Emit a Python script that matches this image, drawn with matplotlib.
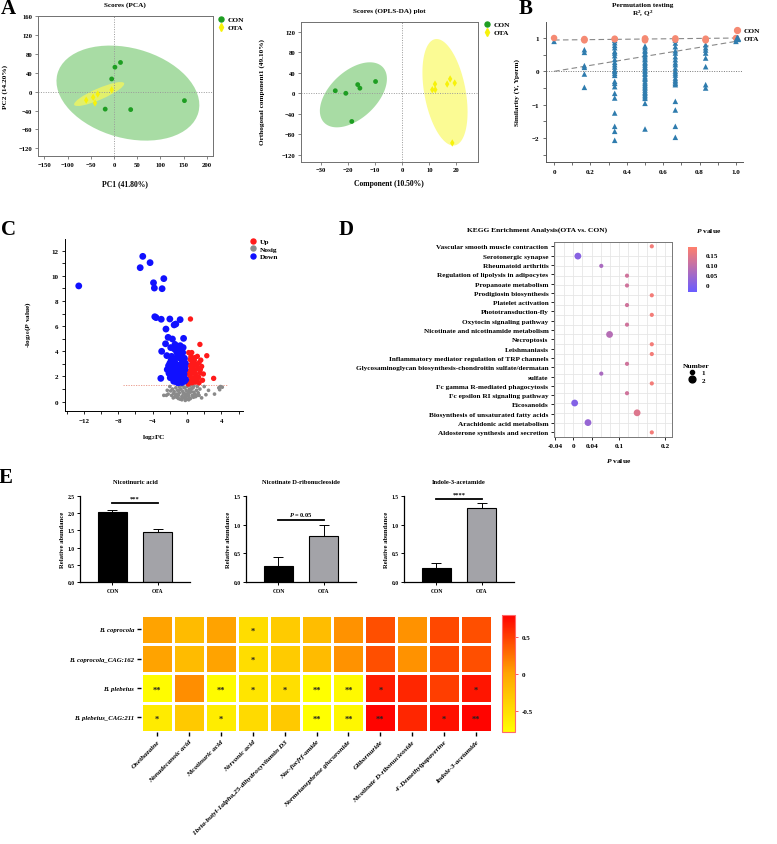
import numpy as np
import matplotlib
matplotlib.use("Agg")
import matplotlib.pyplot as plt
from matplotlib.patches import Ellipse, Polygon
from matplotlib.colors import LinearSegmentedColormap, Normalize
from matplotlib.cm import ScalarMappable
from matplotlib.lines import Line2D
from matplotlib.ticker import MultipleLocator, FixedLocator

# ======================= DATA =======================
# Panel A - PCA scores
pca_con_x = [14, 2, -5, -19, 36, 152]
pca_con_y = [62, 52, 27, -37, -38, -19]
pca_ota_x = [-5, -35, -45, -60, -41]
pca_ota_y = [4, -5, -12, -18, -24]
pca_xticks = [-150, -100, -50, 0, 50, 100, 150, 200]
pca_yticks = [-120, -80, -40, 0, 40, 80, 120, 160]

# Panel A - OPLS-DA scores
opls_con_x = [-24.8, -20.9, -16.5, -15.7, -9.9, -18.7]
opls_con_y = [5, 0, 17, 10, 23, -55]
opls_ota_x = [11.1, 12.1, 12.2, 16.6, 17.7, 19.4, 18.5]
opls_ota_y = [7, 18, 7, 18, 28, 20, -97]
opls_xticks = [-30, -20, -10, 0, 10, 20]
opls_yticks = [-120, -80, -40, 0, 40, 80, 120]

# Panel B - permutation test
perm_levels = [0, 1/6, 2/6, 3/6, 4/6, 5/6, 1.0]
r2_perm = [[1.0], [0.97, 0.95, 0.93], [0.98, 0.96], [0.99, 0.96, 0.93],
           [0.99, 0.95], [0.98, 0.95, 0.93], [1.0]]
q2_perm = [[0.9],
           [0.65, 0.57, 0.17, 0.12, -0.08, -0.48],
           [0.93, 0.86, 0.78, 0.71, 0.6, 0.55, 0.47, 0.36, 0.27, 0.2, 0.13, 0.04,
            0.0, -0.06, -0.12, -0.3, -0.36, -0.46, -0.66, -0.8, -1.25, -1.65,
            -1.8, -2.07],
           [0.76, 0.71, 0.64, 0.6, 0.53, 0.5, 0.44, 0.38, 0.35, 0.28, 0.24, 0.19,
            0.13, 0.1, 0.04, 0.0, -0.06, -0.09, -0.16, -0.21, -0.24, -0.31, -0.36,
            -0.41, -0.46, -0.5, -0.56, -0.62, -0.66, -0.71, -0.76, -0.81, -0.96,
            -1.73],
           [0.94, 0.85, 0.74, 0.62, 0.55, 0.44, 0.35, 0.26, 0.2, 0.1, 0.01, -0.05,
            -0.11, -0.2, -0.26, -0.31, -0.36, -0.4, -0.9, -1.16, -1.65, -1.98],
           [0.8, 0.71, 0.64, 0.55, 0.4, 0.14, -0.4, -0.5],
           [0.9]]
r2_intercept, r2_final = 0.94, 1.0
q2_intercept, q2_final = 0.0, 0.9
perm_xticks = [0, 0.2, 0.4, 0.6, 0.8, 1.0]
perm_yticks = [-2, -1, 0, 1]

# Panel C - volcano
down_x = [-12.6, -5.15, -5.45, -4.3, -3.9, -3.8, -2.7, -2.9, -3.75, -3.6, -3.0,
          -2.0, -0.8, -1.3, -1.5, -2.45, -2.2, -1.7, -0.4, -2.5, -1.9, -1.4,
          -0.8, -2.95, -2.35, -3.05, -1.2, -1.6, -1.0, -0.6, -0.3, -1.3, -0.85,
          -0.5, -1.65, -2.0, -2.1, -1.85, -1.35, -1.05, -0.65, -0.25, -0.45,
          -0.8, -1.2, -1.55, -1.95, -0.3, -0.6, -1.0, -0.2, -0.9, -0.5, -1.3,
          -0.7, -1.5, -0.35, -1.1, -2.3, -2.0, -0.15, -0.55, -1.75, -1.15,
          -1.8, -1.45, -1.1, -0.75, -0.4, -1.9, -1.6, -1.25, -0.95, -0.6, -0.25,
          -1.7, -1.35, -1.0, -0.7, -0.35, -2.15, -1.5, -0.9, -0.45, -1.2, -0.65,
          -1.85, -1.05]
down_y = [9.2, 11.55, 10.65, 11.05, 9.45, 9.03, 9.78, 8.98, 6.75, 6.68, 6.55,
          6.57, 6.52, 6.17, 6.1, 5.77, 5.11, 4.98, 5.03, 4.6, 4.3, 4.55, 4.45,
          4.0, 3.66, 1.85, 3.95, 3.4, 3.5, 3.35, 3.45, 3.0, 2.9, 2.8, 2.7, 2.45,
          2.25, 2.05, 2.4, 2.2, 2.3, 2.55, 2.05, 1.8, 1.7, 1.62, 1.9, 1.62, 1.52,
          1.5, 3.05, 3.75, 3.9, 4.15, 2.6, 2.1, 2.2, 1.55, 2.55, 3.05, 1.75, 3.2,
          3.25, 2.9, 3.6, 3.15, 3.7, 3.55, 3.1, 2.75, 2.35, 2.6, 2.45, 2.85, 2.7,
          2.0, 1.85, 1.95, 1.7, 1.9, 2.85, 4.2, 4.05, 4.3, 1.55, 2.0, 3.3, 3.85]
up_x = [0.4, 1.5, 2.3, 3.1, 0.2, 0.45, 0.9, 1.2, 0.6, 1.0, 1.4, 0.3, 0.7, 1.3,
        1.7, 0.2, 0.6, 1.0, 1.5, 1.9, 0.4, 0.8, 1.2, 0.3, 0.6, 1.0, 1.4, 0.15,
        1.8, 0.55, 0.9, 1.6, 0.35, 0.75, 1.15, 1.55, 0.25, 0.65, 1.05, 1.35,
        0.5, 0.85]
up_y = [6.57, 4.55, 3.65, 1.85, 3.9, 3.6, 3.5, 3.6, 3.2, 3.0, 3.1, 2.9, 2.7,
        2.6, 2.8, 2.4, 2.3, 2.2, 2.3, 2.2, 2.0, 1.9, 1.8, 1.6, 1.5, 1.55, 1.5,
        1.4, 1.7, 3.9, 2.5, 3.3, 3.35, 3.05, 2.85, 2.55, 2.15, 1.75, 2.0, 1.95,
        2.65, 3.3]
nosig_x = [-2.0, -1.7, -1.5, -1.3, -1.1, -0.9, -0.7, -0.5, -0.3, -0.1, 0.1, 0.3,
           0.5, 0.7, 0.9, 1.1, 1.3, 1.5, -1.8, -1.4, -1.0, -0.6, -0.2, 0.2, 0.6,
           1.0, 1.4, -0.8, -0.4, 0.0, 0.4, -0.2, 0.2, -2.2, -1.6, 1.7, 2.2, 2.0,
           3.2, 3.7, 3.9, 4.1, 3.8, -2.3, -0.9, -0.5, 0.0, 0.4, 0.8, 1.2, -1.2,
           0.8, -0.3, 0.15, -2.4, -1.9, -1.55, -1.2, -0.85, -0.45, -0.05, 0.35,
           0.75, 1.15, -1.0, -0.6, -0.15, 0.25, 0.55, -2.7, 2.5]
nosig_y = [1.2, 1.0, 0.8, 1.1, 0.9, 0.7, 1.0, 0.8, 1.1, 0.9, 0.7, 1.0, 0.8, 1.1,
           0.6, 0.9, 0.7, 1.0, 0.5, 0.4, 0.5, 0.4, 0.5, 0.4, 0.5, 0.4, 0.5, 0.2,
           0.3, 0.2, 0.25, 0.1, 0.15, 0.6, 0.3, 0.3, 0.55, 1.2, 0.6, 1.1, 1.2,
           1.15, 0.95, 0.9, 1.2, 1.25, 1.2, 1.3, 1.25, 1.2, 0.6, 0.75, 0.65, 0.55,
           0.5, 0.85, 0.65, 0.35, 0.95, 0.6, 0.55, 0.75, 0.35, 0.5, 0.25, 0.15,
           0.35, 0.85, 1.05, 0.5, 0.9]
volcano_threshold = 1.3
volcano_xticks = [-12, -8, -4, 0, 4]
volcano_yticks = [0, 2, 4, 6, 8, 10, 12]

# Panel D - KEGG enrichment
kegg_terms = ["Vascular smooth muscle contraction", "Serotonergic synapse",
              "Rheumatoid arthritis", "Regulation of lipolysis in adipocytes",
              "Propanoate metabolism", "Prodigiosin biosynthesis",
              "Platelet activation", "Phototransduction-fly",
              "Oxytocin signaling pathway",
              "Nicotinate and nicotinamide metabolism", "Necroptosis",
              "Leishmaniasis", "Inflammatory mediator regulation of TRP channels",
              "Glycosaminoglycan biosynthesis-chondroitin sulfate/dermatan\nsulfate",
              "Fc gamma R-mediated phagocytosis", "Fc epsilon RI signaling pathway",
              "Eicosanoids", "Biosynthesis of unsaturated fatty acids",
              "Arachidonic acid metabolism", "Aldosterone synthesis and secretion"]
kegg_p = [0.171, 0.010, 0.061, 0.117, 0.117, 0.171, 0.117, 0.171, 0.117, 0.079,
          0.171, 0.171, 0.117, 0.061, 0.171, 0.117, 0.003, 0.139, 0.032, 0.171]
kegg_n = [1, 2, 1, 1, 1, 1, 1, 1, 1, 2, 1, 1, 1, 1, 1, 1, 2, 2, 2, 1]
kegg_xticks = [-0.04, 0, 0.04, 0.1, 0.2]
kegg_xticklabels = ["-0.04", "0", "0.04", "0.1", "0.2"]
kegg_cbar_ticks = [0, 0.05, 0.10, 0.15]
kegg_cbar_labels = ["0", "0.05", "0.10", "0.15"]

# Panel E - bars
bar_groups = ["CON", "OTA"]
nicotinuric_mean = [2.03, 1.45]
nicotinuric_err = [0.07, 0.09]
nicotinate_mean = [0.28, 0.81]
nicotinate_err = [0.16, 0.19]
indole_mean = [0.25, 1.29]
indole_err = [0.09, 0.08]

# Panel E - heatmap
heat_rows = ["B. coprocola", "B. coprocola_CAG:162", "B. plebeius",
             "B. plebeius_CAG:211"]
heat_cols = ["Oxethazaine", "Nonadecanoic acid", "Nicotinuric acid",
             "Nervonic acid", "1beta-butyl-1alpha,25-dihydroxyvitamin D3",
             "Nac-fucfrf-amide", "Normetanephrine glucuronide", "Glibornuride",
             "Nicotinate D-ribonucleoside", "4'-Demethylpapaverine",
             "Indole-3-acetamide"]
heat_vals = [[0.02, -0.18, 0.02, -0.48, -0.32, -0.2, 0.1, 0.42, 0.1, 0.45, 0.42],
             [0.02, -0.18, 0.02, -0.48, -0.32, -0.18, 0.1, 0.42, 0.1, 0.45, 0.42],
             [-0.75, 0.12, -0.74, -0.55, -0.5, -0.78, -0.72, 0.66, 0.62, 0.5, 0.7],
             [-0.6, -0.3, -0.62, -0.45, -0.3, -0.78, -0.7, 0.78, 0.62, 0.72, 0.78]]
heat_stars = [["", "", "", "*", "", "", "", "", "", "", ""],
              ["", "", "", "*", "", "", "", "", "", "", ""],
              ["**", "", "**", "*", "*", "**", "**", "*", "", "", "*"],
              ["*", "", "*", "", "", "**", "**", "**", "", "*", "**"]]

# ======================= STYLE / LAYOUT =======================
plt.rcParams['font.family'] = ['Liberation Serif', 'DejaVu Serif']
plt.rcParams['font.weight'] = 'bold'
plt.rcParams['axes.labelweight'] = 'bold'
plt.rcParams['mathtext.fontset'] = 'custom'
plt.rcParams['mathtext.rm'] = 'Liberation Serif:bold'
plt.rcParams['mathtext.it'] = 'Liberation Serif:italic:bold'
plt.rcParams['mathtext.bf'] = 'Liberation Serif:bold'

W, H = 777, 845
fig = plt.figure(figsize=(W / 100, H / 100), dpi=100)
fig.patch.set_facecolor('white')


def axpx(x0, y0, x1, y1):
    return fig.add_axes([x0 / W, 1 - y1 / H, (x1 - x0) / W, (y1 - y0) / H])


def fxy(x, y):
    return (x / W, 1 - y / H)


def ftext(x, y, s, **kw):
    fig.text(x / W, 1 - y / H, s, ha=kw.pop('ha', 'center'),
             va=kw.pop('va', 'center'), **kw)


def set_xlabel_px(ax, s, x, y, fs):
    ax.set_xlabel(s, fontsize=fs)
    ax.xaxis.set_label_coords(x / W, 1 - y / H, transform=fig.transFigure)
    ax.xaxis.label.set_va('center')


def set_ylabel_px(ax, s, x, y, fs):
    ax.set_ylabel(s, fontsize=fs)
    ax.yaxis.set_label_coords(x / W, 1 - y / H, transform=fig.transFigure)
    ax.yaxis.label.set_va('center')


GREEN = '#1e9e22'
YELLOW = '#f7f20a'
frame_col = '#707070'

# ---------------- Panel A: PCA ----------------
ax = axpx(38, 17, 213, 157)
ax.add_patch(Ellipse((30, -3), 315, 191, angle=-15, facecolor='#93d48e',
                     edgecolor='none', alpha=0.8, zorder=1))
ax.add_patch(Ellipse((-32, -5), 117, 24, angle=23, facecolor='#f6f85a',
                     edgecolor='none', alpha=0.75, zorder=2))
ax.axhline(0, color='#9a9a9a', ls=(0, (1, 1.5)), lw=0.7, zorder=2)
ax.axvline(0, color='#9a9a9a', ls=(0, (1, 1.5)), lw=0.7, zorder=2)
ax.scatter(pca_con_x, pca_con_y, s=12, color=GREEN, zorder=4, edgecolors='none')
ax.scatter(pca_ota_x, pca_ota_y, s=14, marker='d', color=YELLOW, zorder=4,
           edgecolors='none')
ax.set_xlim(-164, 213.6)
ax.set_ylim(-136.5, 160.6)
ax.set_xticks(pca_xticks)
ax.set_yticks(pca_yticks)
ax.tick_params(labelsize=4.8, length=2, width=0.6, color=frame_col, pad=2)
for sp in ax.spines.values():
    sp.set_color(frame_col)
    sp.set_linewidth(0.7)
ftext(125, 5, 'Scores (PCA)', fontsize=5.2)
set_xlabel_px(ax, 'PC1 (41.80%)', 125, 184, 5.5)
set_ylabel_px(ax, 'PC2 (14.20%)', 5, 87, 5.2)
hA = [Line2D([], [], marker='o', ls='none', color=GREEN, markersize=3.6),
      Line2D([], [], marker='d', ls='none', color=YELLOW, markersize=4)]
ax.legend(hA, ['CON', 'OTA'], loc='upper left', bbox_to_anchor=fxy(218, 17),
          bbox_transform=fig.transFigure, frameon=False, fontsize=5.3,
          handlelength=0.8, handletextpad=0.5, labelspacing=0.25, borderpad=0,
          borderaxespad=0)

# ---------------- Panel A: OPLS-DA ----------------
ax = axpx(300.7, 22.7, 477.7, 162.7)
t = np.linspace(0, 2 * np.pi, 200)
gc, ga, gb = (-18.1, -3.0), (6.1, 63.5), (10.8, 0.0)
ax.add_patch(Polygon(np.column_stack([gc[0] + ga[0] * np.cos(t) + gb[0] * np.sin(t),
                                      gc[1] + ga[1] * np.cos(t) + gb[1] * np.sin(t)]),
                     closed=True, facecolor='#93d48e', edgecolor='none', alpha=0.8,
                     zorder=1))
yc, ya, yb = (15.8, 2.0), (-3.1, 104.0), (7.75, 0.0)
ax.add_patch(Polygon(np.column_stack([yc[0] + ya[0] * np.cos(t) + yb[0] * np.sin(t),
                                      yc[1] + ya[1] * np.cos(t) + yb[1] * np.sin(t)]),
                     closed=True, facecolor='#fbfb88', edgecolor='none', alpha=0.9,
                     zorder=1))
ax.axhline(0, color='#9a9a9a', ls=(0, (1, 1.5)), lw=0.7, zorder=2)
ax.axvline(0, color='#9a9a9a', ls=(0, (1, 1.5)), lw=0.7, zorder=2)
ax.scatter(opls_con_x, opls_con_y, s=12, color=GREEN, zorder=4, edgecolors='none')
ax.scatter(opls_ota_x, opls_ota_y, s=14, marker='d', color=YELLOW, zorder=4,
           edgecolors='none')
ax.set_xlim(-37.6, 27.9)
ax.set_ylim(-133.6, 139.8)
ax.set_xticks(opls_xticks)
ax.set_yticks(opls_yticks)
ax.tick_params(labelsize=4.8, length=2, width=0.6, color=frame_col, pad=2)
for sp in ax.spines.values():
    sp.set_color(frame_col)
    sp.set_linewidth(0.7)
ftext(389, 11, 'Scores (OPLS-DA) plot', fontsize=5.2)
set_xlabel_px(ax, 'Component (10.50%)', 389, 184, 5.5)
set_ylabel_px(ax, 'Orthogonal component1 (49.10%)', 262, 92, 5.2)
ax.legend(hA, ['CON', 'OTA'], loc='upper left', bbox_to_anchor=fxy(484, 22),
          bbox_transform=fig.transFigure, frameon=False, fontsize=5.3,
          handlelength=0.8, handletextpad=0.5, labelspacing=0.25, borderpad=0,
          borderaxespad=0)

# ---------------- Panel B: permutation ----------------
SALMON = '#f58a73'
TBLUE = '#2f7cae'
ax = axpx(545.7, 22.7, 742.7, 163.3)
ax.axhline(0, color='#777777', ls=(0, (1, 1.5)), lw=0.7, zorder=1)
ax.plot([0, 1], [r2_intercept, r2_final], color='#888888', ls=(0, (5, 3)), lw=0.8,
        zorder=2)
ax.plot([0, 1], [q2_intercept, q2_final], color='#888888', ls=(0, (5, 3)), lw=0.8,
        zorder=2)
for lev, vals in zip(perm_levels, q2_perm):
    ax.scatter([lev] * len(vals), vals, marker='^', s=16, color=TBLUE,
               edgecolors='none', zorder=3)
for lev, vals in zip(perm_levels, r2_perm):
    ax.scatter([lev] * len(vals), vals, marker='o', s=22, color=SALMON,
               edgecolors='none', zorder=4)
ax.set_xlim(-0.046, 1.037)
ax.set_ylim(-2.73, 1.49)
ax.set_xticks(perm_xticks)
ax.set_xticklabels(['0', '0.2', '0.4', '0.6', '0.8', '1.0'])
ax.set_yticks(perm_yticks)
ax.xaxis.set_minor_locator(MultipleLocator(0.1))
ax.yaxis.set_minor_locator(MultipleLocator(0.5))
ax.tick_params(which='both', labelsize=5, length=2, width=0.6, color='#555555',
               pad=3)
ax.spines['top'].set_visible(False)
ax.spines['right'].set_visible(False)
for s in ['left', 'bottom']:
    ax.spines[s].set_color('#555555')
    ax.spines[s].set_linewidth(0.7)
ftext(643, 5, 'Permutation testing', fontsize=5.2)
ftext(643, 14, 'R$^2$, Q$^2$', fontsize=5.2)
set_ylabel_px(ax, 'Similarity (Y, Yperm)', 517, 93, 5.2)
hB = [Line2D([], [], marker='o', ls='none', color=SALMON, markersize=4.2),
      Line2D([], [], marker='^', ls='none', color=TBLUE, markersize=4)]
ax.legend(hB, ['CON', 'OTA'], loc='upper left', bbox_to_anchor=fxy(734, 28),
          bbox_transform=fig.transFigure, frameon=False, fontsize=5.3,
          handlelength=0.8, handletextpad=0.5, labelspacing=0.25, borderpad=0,
          borderaxespad=0)

# ---------------- Panel C: volcano ----------------
ax = axpx(65, 240, 243.3, 411.7)
ax.plot([-7.4, 4.6], [volcano_threshold, volcano_threshold], color='#e89080',
        ls=(0, (1.5, 1.5)), lw=0.6, zorder=1)
ax.scatter(nosig_x, nosig_y, s=7, color='#8a8a8a', edgecolors='none', zorder=2)
ax.scatter(up_x, up_y, s=15, color='#ff1a1a', edgecolors='none', zorder=3)
ax.scatter(down_x, down_y, s=24, color='#1010ff', edgecolors='none', zorder=3)
ax.set_xlim(-14.2, 6.55)
ax.set_ylim(-0.72, 12.93)
ax.set_xticks(volcano_xticks)
ax.set_yticks(volcano_yticks)
ax.xaxis.set_minor_locator(MultipleLocator(2))
ax.yaxis.set_minor_locator(MultipleLocator(1))
ax.tick_params(which='both', labelsize=5, length=2, width=0.6, pad=3)
ax.spines['top'].set_visible(False)
ax.spines['right'].set_visible(False)
for s in ['left', 'bottom']:
    ax.spines[s].set_linewidth(0.7)
set_xlabel_px(ax, 'log$_2$FC', 154, 438, 5.3)
set_ylabel_px(ax, '-log$_{10}$($P$ value)', 28, 324, 5.3)
hC = [Line2D([], [], marker='o', ls='none', color=c, markersize=3.6)
      for c in ['#ff1a1a', '#8a8a8a', '#1010ff']]
ax.legend(hC, ['Up', 'Nosig', 'Down'], loc='upper left',
          bbox_to_anchor=fxy(250, 239), bbox_transform=fig.transFigure,
          frameon=False, fontsize=5.3, handlelength=0.8, handletextpad=0.5,
          labelspacing=0.2, borderpad=0, borderaxespad=0)

# ---------------- Panel D: KEGG ----------------
cmapD = LinearSegmentedColormap.from_list('kegg', ['#6a5cff', '#ff7f6c'])
normD = Normalize(vmin=-0.035, vmax=0.19)
size_map = {1: 9, 2: 24}
ax = axpx(554, 242.7, 672, 438)
ypos = np.arange(len(kegg_terms))
ax.scatter(kegg_p, ypos, s=[size_map[n] for n in kegg_n], c=kegg_p, cmap=cmapD,
           norm=normD, edgecolors='none', zorder=3)
# label lines are spread evenly along the axis (multi-line term takes 2 slots)
label_lines = [ln for term in kegg_terms for ln in term.split('\n')]
label_pos = np.linspace(0, len(kegg_terms) - 1, len(label_lines))
ax.set_yticks(label_pos)
ax.set_yticklabels(label_lines, fontsize=5.2)
ax.yaxis.set_minor_locator(FixedLocator(ypos))
ax.set_ylim(len(kegg_terms) - 0.53, -0.47)
ax.set_xlim(-0.042, 0.215)
ax.set_xticks(kegg_xticks)
ax.set_xticklabels(kegg_xticklabels)
ax.xaxis.set_minor_locator(MultipleLocator(0.02))
ax.grid(which='minor', axis='both', color='#e6e6e6', lw=0.6, zorder=0)
ax.grid(which='major', axis='x', color='#e6e6e6', lw=0.6, zorder=0)
ax.set_axisbelow(True)
ax.tick_params(which='major', labelsize=5.2, length=2, width=0.6, pad=2)
ax.tick_params(which='minor', length=0)
for sp in ax.spines.values():
    sp.set_color('#777777')
    sp.set_linewidth(0.7)
ftext(537, 230, 'KEGG Enrichment Analysis(OTA vs. CON)', fontsize=5.4)
set_xlabel_px(ax, '$P$ value', 619, 461, 5.4)
cax = axpx(688, 248, 697, 292.7)
cb = fig.colorbar(ScalarMappable(norm=normD, cmap=cmapD), cax=cax)
cb.set_ticks(kegg_cbar_ticks)
cb.set_ticklabels(kegg_cbar_labels)
cb.outline.set_visible(False)
cax.tick_params(length=0, labelsize=5.1, pad=6)
ftext(709, 231, '$P$ value', fontsize=5.4)
hD = [Line2D([], [], marker='o', ls='none', color='black',
             markersize=np.sqrt(size_map[k])) for k in (1, 2)]
ax.legend(hD, ['1', '2'], loc='upper left', bbox_to_anchor=fxy(683, 364),
          bbox_transform=fig.transFigure, frameon=False, fontsize=5.1,
          title='Number', title_fontsize=5.4, handlelength=1.2,
          handletextpad=0.8, labelspacing=0.2, borderpad=0, borderaxespad=0)

# ---------------- Panel E: bar charts ----------------
bar_specs = [("Nicotinuric acid", nicotinuric_mean, nicotinuric_err, 2.5,
              [0.0, 0.5, 1.0, 1.5, 2.0, 2.5], 80, 2.3, "***"),
             ("Nicotinate D-ribonucleoside", nicotinate_mean, nicotinate_err, 1.5,
              [0.0, 0.5, 1.0, 1.5], 246, 1.08, "$P$ = 0.05"),
             ("Indole-3-acetamide", indole_mean, indole_err, 1.5,
              [0.0, 0.5, 1.0, 1.5], 404, 1.44, "****")]
for title, mean, err, ymax, yt, x0, sig_y, sig_txt in bar_specs:
    ax = axpx(x0, 496.7, x0 + 110, 583.3)
    xs = np.arange(len(bar_groups))
    ax.bar(xs, mean, width=0.64, color=['#000000', '#a3a3a8'], edgecolor='black',
           linewidth=0.8, zorder=2)
    ax.errorbar(xs, mean, yerr=[np.zeros(len(err)), err], fmt='none',
                ecolor='black', elinewidth=0.7, capsize=3.5, capthick=0.7,
                zorder=1)
    ax.plot([xs[0], xs[1]], [sig_y, sig_y], color='black', lw=1.3)
    ax.text(0.5, sig_y + ymax * 0.025, sig_txt, ha='center', va='bottom',
            fontsize=4.6)
    ax.set_xlim(-0.72, 1.72)
    ax.set_ylim(0, ymax)
    ax.set_yticks(yt)
    ax.set_yticklabels(['%.1f' % v for v in yt])
    ax.set_xticks(xs)
    ax.set_xticklabels(bar_groups)
    ax.tick_params(labelsize=4.1, length=2, width=0.7, pad=2)
    ax.spines['top'].set_visible(False)
    ax.spines['right'].set_visible(False)
    for s in ['left', 'bottom']:
        ax.spines[s].set_linewidth(0.9)
    ftext(x0 + 55, 483, title, fontsize=4.7)
    set_ylabel_px(ax, 'Relative abundance', x0 - 17, 540, 4.8)

# ---------------- Panel E: heatmap ----------------
cmapH = LinearSegmentedColormap.from_list('heat', ['#ffff00', '#ffa500', '#ff0000'])
ax = axpx(141, 615.7, 492, 733)
mesh = ax.pcolormesh(np.array(heat_vals), cmap=cmapH, vmin=-0.78, vmax=0.8,
                     edgecolors='white', linewidth=0.9)
ax.set_xlim(0, len(heat_cols))
ax.set_ylim(len(heat_rows), 0)
for i, row in enumerate(heat_stars):
    for j, st in enumerate(row):
        if st:
            ax.text(j + 0.5, i + 0.55, st, ha='center', va='center', fontsize=6,
                    color='#222222')
ax.set_xticks(np.arange(len(heat_cols)) + 0.5)
ax.set_xticklabels(heat_cols, rotation=45, ha='right', rotation_mode='anchor',
                   fontsize=5.2, style='italic')
ax.set_yticks(np.arange(len(heat_rows)) + 0.5)
ax.set_yticklabels(heat_rows, fontsize=4.9, style='italic')
ax.tick_params(length=3, width=1.0, pad=2)
for sp in ax.spines.values():
    sp.set_visible(False)
caxH = axpx(502, 615.7, 515, 733)
cbH = fig.colorbar(mesh, cax=caxH)
cbH.set_ticks([-0.5, 0, 0.5])
cbH.set_ticklabels(['-0.5', '0', '0.5'])
cbH.outline.set_edgecolor('#ff6a6a')
cbH.outline.set_linewidth(0.8)
caxH.tick_params(labelsize=5, length=2, width=0.6, color='#ff4040', pad=3)

# ---------------- panel letters ----------------
for letter, x, y in [('A', 8, 9), ('B', 526, 9), ('C', 8, 230), ('D', 346, 230),
                     ('E', 6, 478)]:
    ftext(x, y, letter, fontsize=15, fontweight='bold')

fig.savefig('out.png', dpi=100, facecolor='white')
